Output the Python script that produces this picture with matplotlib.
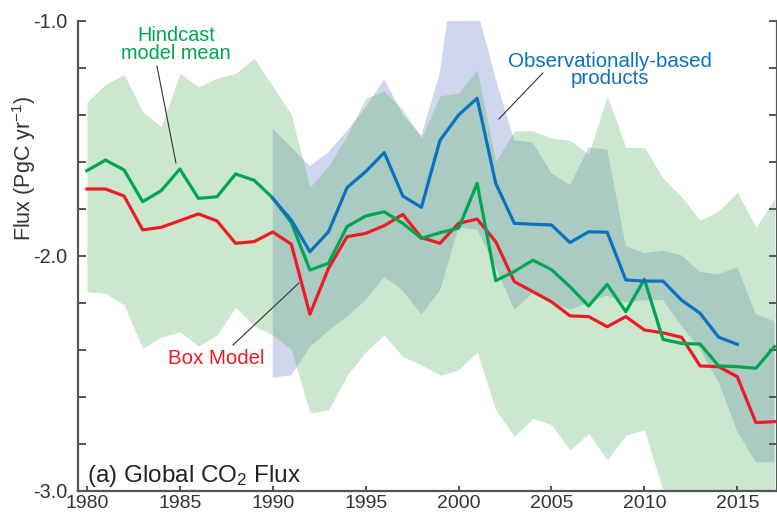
import matplotlib
matplotlib.use("Agg")
import matplotlib.pyplot as plt
import numpy as np
from matplotlib.ticker import MultipleLocator, FormatStrFormatter

plt.rcParams["font.family"] = ["Liberation Sans", "DejaVu Sans"]
plt.rcParams["mathtext.fontset"] = "custom"
plt.rcParams["mathtext.rm"] = "Liberation Sans"
plt.rcParams["mathtext.it"] = "Liberation Sans:italic"
plt.rcParams["mathtext.bf"] = "Liberation Sans:bold"

years = np.arange(1980, 2018)
obs_years = np.arange(1990, 2018)
obs_line_years = np.arange(1990, 2016)

# hindcast model mean (green)
hindcast = [-1.639, -1.594, -1.636, -1.771, -1.724, -1.632, -1.757, -1.75, -1.653, -1.68,
            -1.755, -1.86, -2.062, -2.033, -1.877, -1.832, -1.814, -1.863, -1.927, -1.903,
            -1.884, -1.693, -2.107, -2.068, -2.02, -2.06, -2.133, -2.215, -2.123, -2.239,
            -2.101, -2.357, -2.374, -2.377, -2.47, -2.473, -2.48, -2.388]
hind_upper = [-1.348, -1.272, -1.229, -1.388, -1.452, -1.225, -1.282, -1.246, -1.225, -1.161,
              -1.28, -1.40, -1.71, -1.62, -1.49, -1.33, -1.30, -1.38, -1.50, -1.32,
              -1.31, -1.21, -1.60, -1.47, -1.47, -1.50, -1.51, -1.57, -1.32, -1.54,
              -1.54, -1.67, -1.75, -1.85, -1.81, -1.73, -1.88, -1.76]
hind_lower = [-2.154, -2.161, -2.211, -2.395, -2.348, -2.324, -2.385, -2.338, -2.22, -2.30,
              -2.338, -2.40, -2.67, -2.657, -2.51, -2.41, -2.338, -2.43, -2.466, -2.509,
              -2.487, -2.41, -2.657, -2.77, -2.693, -2.72, -2.828, -2.757, -2.87, -2.764,
              -2.743, -3.0, -3.2, -3.3, -3.3, -3.3, -3.3, -3.3]

# box model (red)
box_model = [-1.717, -1.717, -1.747, -1.891, -1.88, -1.852, -1.823, -1.853, -1.948, -1.941,
             -1.90, -1.952, -2.25, -2.055, -1.92, -1.906, -1.873, -1.825, -1.924, -1.948,
             -1.863, -1.845, -1.941, -2.111, -2.154, -2.197, -2.257, -2.26, -2.303, -2.26,
             -2.317, -2.329, -2.348, -2.47, -2.473, -2.516, -2.711, -2.707]

# observationally-based products (blue)
obs = [-1.757, -1.849, -1.984, -1.899, -1.711, -1.643, -1.562, -1.747, -1.795, -1.51,
       -1.402, -1.331, -1.693, -1.863, -1.867, -1.870, -1.945, -1.899, -1.901, -2.104,
       -2.109, -2.109, -2.19, -2.246, -2.348, -2.378]
obs_upper = [-1.46, -1.54, -1.62, -1.56, -1.47, -1.37, -1.25, -1.40, -1.49, -1.22,
             -0.65, -0.95, -1.25, -1.51, -1.52, -1.65, -1.70, -1.54, -1.55, -1.96,
             -1.99, -1.98, -2.0, -2.07, -2.08, -2.05, -2.25, -2.28]
obs_lower = [-2.52, -2.51, -2.39, -2.32, -2.26, -2.19, -2.09, -2.15, -2.25, -2.15,
             -1.88, -1.89, -2.05, -2.23, -2.16, -2.20, -2.23, -2.20, -2.17, -2.20,
             -2.19, -2.19, -2.30, -2.40, -2.54, -2.75, -2.88, -2.88]

green = "#00a651"
red = "#ed1c24"
blue = "#0a72c0"
axis_col = "#555555"

fig = plt.figure(figsize=(7.77, 5.16), dpi=100)
ax = fig.add_axes([78 / 777, 1 - 490.5 / 516, 698.5 / 777, 470 / 516])

ax.fill_between(obs_years, obs_upper, obs_lower, color="#cfd6ee", linewidth=0)
ax.fill_between(years, hind_upper, hind_lower, color=(85 / 255, 178 / 255, 95 / 255),
                alpha=0.3, linewidth=0)

ax.plot(years, box_model, color=red, linewidth=2.3)
ax.plot(years, hindcast, color=green, linewidth=2.3)
ax.plot(obs_line_years, obs, color=blue, linewidth=2.3)

ax.set_xlim(1979.52, 2017.11)
ax.set_ylim(-3.0, -1.0)

ax.xaxis.set_major_locator(MultipleLocator(5))
ax.yaxis.set_major_locator(MultipleLocator(1.0))
ax.yaxis.set_minor_locator(MultipleLocator(0.2))
ax.yaxis.set_major_formatter(FormatStrFormatter("%.1f"))

ax.spines["top"].set_visible(False)
for side in ["left", "bottom", "right"]:
    ax.spines[side].set_color(axis_col)
    ax.spines[side].set_linewidth(1.6)

ax.tick_params(axis="y", which="both", direction="in", length=5.5, width=1.4,
               color=axis_col, labelsize=14.3, labelcolor="#333333", pad=8,
               right=True)
ax.tick_params(axis="x", which="both", direction="in", length=3.8, width=1.4,
               color=axis_col, labelsize=14, labelcolor="#333333", pad=3)

fig.text(24 / 777, 1 - 168 / 516, "Flux (PgC yr$^{-1}$)", rotation=90,
         ha="center", va="center", fontsize=15.5, color="#333333")

ax.text(1984.79, -1.104, "Hindcast\nmodel mean", color=green, fontsize=14.3,
        ha="center", va="center", linespacing=0.93)
ax.text(2008.15, -1.21, "Observationally-based\nproducts", color=blue, fontsize=14.8,
        ha="center", va="center", linespacing=0.88)
ax.text(1986.94, -2.44, "Box Model", color=red, fontsize=14.8, ha="center", va="center")
ax.text(1980.0, -2.964, "(a) Global CO$_2$ Flux", color="#222222", fontsize=17.5,
        ha="left", va="baseline")

# leader lines
ax.plot([1983.77, 1984.79], [-1.194, -1.606], color="#333333", linewidth=0.8)
ax.plot([2004.54, 2002.17], [-1.223, -1.419], color="#333333", linewidth=0.8)
ax.plot([1987.86, 1991.41], [-2.381, -2.117], color="#333333", linewidth=0.8)

fig.savefig("out.png", dpi=100)
